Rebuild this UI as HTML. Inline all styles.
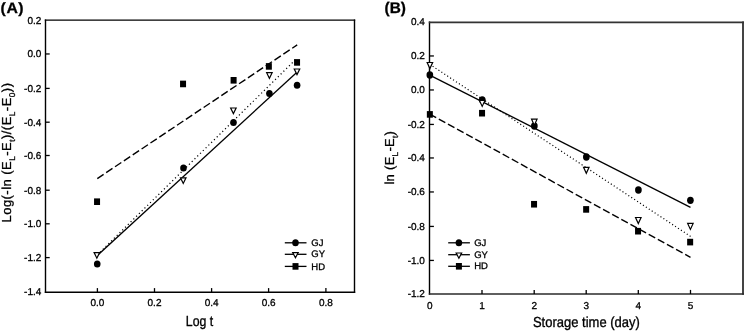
<!DOCTYPE html>
<html><head><meta charset="utf-8"><style>
html,body{margin:0;padding:0;background:#fff;}
body{width:745px;height:332px;overflow:hidden;}
svg{display:block;font-family:"Liberation Sans", sans-serif;filter:grayscale(1);text-rendering:geometricPrecision;}
</style></head><body>
<svg width="745" height="332" viewBox="0 0 745 332" font-family='"Liberation Sans", sans-serif'>
<rect width="745" height="332" fill="#fff"/>
<line x1="45.5" y1="19.4" x2="45.5" y2="292.9" stroke="#000" stroke-width="1.4"/>
<line x1="354.5" y1="19.4" x2="354.5" y2="292.9" stroke="#000" stroke-width="1.4"/>
<line x1="44.8" y1="20.1" x2="355.2" y2="20.1" stroke="#000" stroke-width="1.4"/>
<line x1="44.8" y1="292.2" x2="355.2" y2="292.2" stroke="#000" stroke-width="1.4"/>
<text x="41.3" y="23.5" font-size="10" text-anchor="end" font-weight="normal" stroke="#000" stroke-width="0.3">0.2</text>
<line x1="45.5" y1="53.96" x2="49.7" y2="53.96" stroke="#000" stroke-width="1.3"/>
<text x="41.3" y="57.36" font-size="10" text-anchor="end" font-weight="normal" stroke="#000" stroke-width="0.3">0.0</text>
<line x1="45.5" y1="88.4" x2="49.7" y2="88.4" stroke="#000" stroke-width="1.3"/>
<text x="41.3" y="91.8" font-size="10" text-anchor="end" font-weight="normal" stroke="#000" stroke-width="0.3">-0.2</text>
<line x1="45.5" y1="122.2" x2="49.7" y2="122.2" stroke="#000" stroke-width="1.3"/>
<text x="41.3" y="125.6" font-size="10" text-anchor="end" font-weight="normal" stroke="#000" stroke-width="0.3">-0.4</text>
<line x1="45.5" y1="155.5" x2="49.7" y2="155.5" stroke="#000" stroke-width="1.3"/>
<text x="41.3" y="158.9" font-size="10" text-anchor="end" font-weight="normal" stroke="#000" stroke-width="0.3">-0.6</text>
<line x1="45.5" y1="190.2" x2="49.7" y2="190.2" stroke="#000" stroke-width="1.3"/>
<text x="41.3" y="193.6" font-size="10" text-anchor="end" font-weight="normal" stroke="#000" stroke-width="0.3">-0.8</text>
<line x1="45.5" y1="223.8" x2="49.7" y2="223.8" stroke="#000" stroke-width="1.3"/>
<text x="41.3" y="227.2" font-size="10" text-anchor="end" font-weight="normal" stroke="#000" stroke-width="0.3">-1.0</text>
<line x1="45.5" y1="257.6" x2="49.7" y2="257.6" stroke="#000" stroke-width="1.3"/>
<text x="41.3" y="261" font-size="10" text-anchor="end" font-weight="normal" stroke="#000" stroke-width="0.3">-1.2</text>
<text x="41.3" y="294.6" font-size="10" text-anchor="end" font-weight="normal" stroke="#000" stroke-width="0.3">-1.4</text>
<line x1="97.4" y1="292.2" x2="97.4" y2="288.1" stroke="#000" stroke-width="1.3"/>
<text x="97.4" y="306.3" font-size="10" text-anchor="middle" font-weight="normal" stroke="#000" stroke-width="0.3">0.0</text>
<line x1="154.5" y1="292.2" x2="154.5" y2="288.1" stroke="#000" stroke-width="1.3"/>
<text x="154.5" y="306.3" font-size="10" text-anchor="middle" font-weight="normal" stroke="#000" stroke-width="0.3">0.2</text>
<line x1="211.6" y1="292.2" x2="211.6" y2="288.1" stroke="#000" stroke-width="1.3"/>
<text x="211.6" y="306.3" font-size="10" text-anchor="middle" font-weight="normal" stroke="#000" stroke-width="0.3">0.4</text>
<line x1="268.6" y1="292.2" x2="268.6" y2="288.1" stroke="#000" stroke-width="1.3"/>
<text x="268.6" y="306.3" font-size="10" text-anchor="middle" font-weight="normal" stroke="#000" stroke-width="0.3">0.6</text>
<line x1="325.9" y1="292.2" x2="325.9" y2="288.1" stroke="#000" stroke-width="1.3"/>
<text x="325.9" y="306.3" font-size="10" text-anchor="middle" font-weight="normal" stroke="#000" stroke-width="0.3">0.8</text>
<line x1="97.3" y1="255.6" x2="297.2" y2="71.9" stroke="#000" stroke-width="1.3"/>
<line x1="97.3" y1="254.9" x2="297.2" y2="58" stroke="#000" stroke-width="1.25" stroke-dasharray="1.15 2.75"/>
<line x1="97.3" y1="178.6" x2="297.2" y2="44.9" stroke="#000" stroke-width="1.4" stroke-dasharray="7.6 3.06"/>
<ellipse cx="97.25" cy="264.1" rx="3.3" ry="3.5" fill="#000"/>
<ellipse cx="183.5" cy="168" rx="3.3" ry="3.5" fill="#000"/>
<ellipse cx="233.5" cy="122.5" rx="3.3" ry="3.5" fill="#000"/>
<ellipse cx="269.4" cy="93.5" rx="3.3" ry="3.5" fill="#000"/>
<ellipse cx="297.1" cy="85.3" rx="3.3" ry="3.5" fill="#000"/>
<path d="M94.1 252.6H99.6L96.85 258.2Z" fill="#fff" stroke="#000" stroke-width="1.2"/>
<path d="M180.5 177.8H186L183.25 183.4Z" fill="#fff" stroke="#000" stroke-width="1.2"/>
<path d="M230.65 108H236.15L233.4 113.6Z" fill="#fff" stroke="#000" stroke-width="1.2"/>
<path d="M266.65 72.7H272.15L269.4 78.3Z" fill="#fff" stroke="#000" stroke-width="1.2"/>
<path d="M294.25 69H299.75L297 74.6Z" fill="#fff" stroke="#000" stroke-width="1.2"/>
<rect x="94.05" y="198.4" width="6" height="6.6" fill="#000"/>
<rect x="180.05" y="80.65" width="6" height="6.6" fill="#000"/>
<rect x="230.6" y="77" width="6" height="6.6" fill="#000"/>
<rect x="265.85" y="63.1" width="6" height="6.6" fill="#000"/>
<rect x="294.05" y="59.1" width="6" height="6.6" fill="#000"/>
<line x1="284.8" y1="242.8" x2="306.5" y2="242.8" stroke="#000" stroke-width="1.3"/>
<ellipse cx="295.5" cy="242.8" rx="3.3" ry="3.5" fill="#000"/>
<text x="311.3" y="245.8" font-size="9.5" text-anchor="start" font-weight="normal" stroke="#000" stroke-width="0.3">GJ</text>
<line x1="284.8" y1="254.3" x2="306.5" y2="254.3" stroke="#000" stroke-width="1.3"/>
<path d="M292.7 252.6H298.2L295.45 257.8Z" fill="#fff" stroke="#000" stroke-width="1.2"/>
<text x="311.3" y="257.3" font-size="9.5" text-anchor="start" font-weight="normal" stroke="#000" stroke-width="0.3">GY</text>
<line x1="284.8" y1="266.4" x2="306.5" y2="266.4" stroke="#000" stroke-width="1.3"/>
<rect x="292.5" y="263.1" width="6" height="6.6" fill="#000"/>
<text x="311.3" y="269.7" font-size="9.5" text-anchor="start" font-weight="normal" stroke="#000" stroke-width="0.3">HD</text>
<text transform="translate(0.6,12.8) scale(1.05,1)" font-size="15" font-weight="bold" letter-spacing="0.55" stroke="#000" stroke-width="0.3">(A)</text>
<text transform="translate(199.5,326.4) scale(1,1.12)" stroke="#000" stroke-width="0.3" font-size="13" text-anchor="middle" textLength="27.4" lengthAdjust="spacingAndGlyphs">Log t</text>
<text transform="translate(11.3,152.75) rotate(-90)" font-size="13" stroke="#000" stroke-width="0.3" text-anchor="middle" textLength="139.5" lengthAdjust="spacing">Log(-ln (E<tspan font-size="8.3" dy="4.1">L</tspan><tspan dy="-4.1">-E</tspan><tspan font-size="8.3" dy="4.1">t</tspan><tspan dy="-4.1">)/(E</tspan><tspan font-size="8.3" dy="4.1">L</tspan><tspan dy="-4.1">-E</tspan><tspan font-size="8.3" dy="4.1">0</tspan><tspan dy="-4.1">))</tspan></text>
<line x1="429.5" y1="21.45" x2="429.5" y2="294.85" stroke="#000" stroke-width="1.4"/>
<line x1="743" y1="21.45" x2="743" y2="294.85" stroke="#444" stroke-width="2.0"/>
<line x1="428.8" y1="22.3" x2="744" y2="22.3" stroke="#333" stroke-width="1.7"/>
<line x1="428.8" y1="294" x2="744" y2="294" stroke="#2a2a2a" stroke-width="1.7"/>
<text x="424.9" y="25" font-size="10" text-anchor="end" font-weight="normal" stroke="#000" stroke-width="0.3">0.4</text>
<line x1="429.5" y1="55.96" x2="433.9" y2="55.96" stroke="#000" stroke-width="1.3"/>
<text x="424.9" y="59.36" font-size="10" text-anchor="end" font-weight="normal" stroke="#000" stroke-width="0.3">0.2</text>
<line x1="429.5" y1="89.96" x2="433.9" y2="89.96" stroke="#000" stroke-width="1.3"/>
<text x="424.9" y="93.36" font-size="10" text-anchor="end" font-weight="normal" stroke="#000" stroke-width="0.3">0.0</text>
<line x1="429.5" y1="124.43" x2="433.9" y2="124.43" stroke="#000" stroke-width="1.3"/>
<text x="424.9" y="127.83" font-size="10" text-anchor="end" font-weight="normal" stroke="#000" stroke-width="0.3">-0.2</text>
<line x1="429.5" y1="157.96" x2="433.9" y2="157.96" stroke="#000" stroke-width="1.3"/>
<text x="424.9" y="161.36" font-size="10" text-anchor="end" font-weight="normal" stroke="#000" stroke-width="0.3">-0.4</text>
<line x1="429.5" y1="191.96" x2="433.9" y2="191.96" stroke="#000" stroke-width="1.3"/>
<text x="424.9" y="195.36" font-size="10" text-anchor="end" font-weight="normal" stroke="#000" stroke-width="0.3">-0.6</text>
<line x1="429.5" y1="226.43" x2="433.9" y2="226.43" stroke="#000" stroke-width="1.3"/>
<text x="424.9" y="229.83" font-size="10" text-anchor="end" font-weight="normal" stroke="#000" stroke-width="0.3">-0.8</text>
<line x1="429.5" y1="260.43" x2="433.9" y2="260.43" stroke="#000" stroke-width="1.3"/>
<text x="424.9" y="263.83" font-size="10" text-anchor="end" font-weight="normal" stroke="#000" stroke-width="0.3">-1.0</text>
<text x="424.9" y="297" font-size="10" text-anchor="end" font-weight="normal" stroke="#000" stroke-width="0.3">-1.2</text>
<text x="429.7" y="308.5" font-size="10" text-anchor="middle" font-weight="normal" stroke="#000" stroke-width="0.3">0</text>
<line x1="482" y1="294" x2="482" y2="289.9" stroke="#000" stroke-width="1.3"/>
<text x="482" y="308.5" font-size="10" text-anchor="middle" font-weight="normal" stroke="#000" stroke-width="0.3">1</text>
<line x1="534.2" y1="294" x2="534.2" y2="289.9" stroke="#000" stroke-width="1.3"/>
<text x="534.2" y="308.5" font-size="10" text-anchor="middle" font-weight="normal" stroke="#000" stroke-width="0.3">2</text>
<line x1="586.2" y1="294" x2="586.2" y2="289.9" stroke="#000" stroke-width="1.3"/>
<text x="586.2" y="308.5" font-size="10" text-anchor="middle" font-weight="normal" stroke="#000" stroke-width="0.3">3</text>
<line x1="638.3" y1="294" x2="638.3" y2="289.9" stroke="#000" stroke-width="1.3"/>
<text x="638.3" y="308.5" font-size="10" text-anchor="middle" font-weight="normal" stroke="#000" stroke-width="0.3">4</text>
<line x1="690.5" y1="294" x2="690.5" y2="289.9" stroke="#000" stroke-width="1.3"/>
<text x="690.5" y="308.5" font-size="10" text-anchor="middle" font-weight="normal" stroke="#000" stroke-width="0.3">5</text>
<line x1="429.7" y1="75.1" x2="690.5" y2="207.3" stroke="#000" stroke-width="1.3"/>
<line x1="429.7" y1="64.3" x2="690.5" y2="236.4" stroke="#000" stroke-width="1.2" stroke-dasharray="1.1 2.4"/>
<line x1="429.7" y1="114.1" x2="690.5" y2="257.3" stroke="#000" stroke-width="1.4" stroke-dasharray="7.4 3.01"/>
<ellipse cx="429.85" cy="74.95" rx="3.35" ry="3.7" fill="#000"/>
<ellipse cx="482.25" cy="99.9" rx="3.35" ry="3.7" fill="#000"/>
<ellipse cx="534.35" cy="126" rx="3.35" ry="3.7" fill="#000"/>
<ellipse cx="586.35" cy="157.05" rx="3.35" ry="3.7" fill="#000"/>
<ellipse cx="638.4" cy="189.95" rx="3.35" ry="3.7" fill="#000"/>
<ellipse cx="690.4" cy="200.35" rx="3.35" ry="3.7" fill="#000"/>
<path d="M427.15 62.5H432.65L429.9 68.5Z" fill="#fff" stroke="#000" stroke-width="1.2"/>
<path d="M479.45 100.4H484.95L482.2 106.4Z" fill="#fff" stroke="#000" stroke-width="1.2"/>
<path d="M531.55 119.2H537.05L534.3 125.2Z" fill="#fff" stroke="#000" stroke-width="1.2"/>
<path d="M583.55 167.3H589.05L586.3 173.3Z" fill="#fff" stroke="#000" stroke-width="1.2"/>
<path d="M635.55 217.5H641.05L638.3 223.5Z" fill="#fff" stroke="#000" stroke-width="1.2"/>
<path d="M687.65 223.4H693.15L690.4 229.4Z" fill="#fff" stroke="#000" stroke-width="1.2"/>
<rect x="426.85" y="111.1" width="6" height="6.6" fill="#000"/>
<rect x="479.05" y="109.9" width="6" height="6.6" fill="#000"/>
<rect x="531.05" y="200.95" width="6" height="6.6" fill="#000"/>
<rect x="583.15" y="206.1" width="6" height="6.6" fill="#000"/>
<rect x="635.05" y="227.9" width="6" height="6.6" fill="#000"/>
<rect x="687.15" y="238.8" width="6" height="6.6" fill="#000"/>
<line x1="448.2" y1="242.8" x2="469.9" y2="242.8" stroke="#000" stroke-width="1.3"/>
<ellipse cx="458.9" cy="242.8" rx="3.3" ry="3.5" fill="#000"/>
<text x="474.2" y="245.8" font-size="9.5" text-anchor="start" font-weight="normal" stroke="#000" stroke-width="0.3">GJ</text>
<line x1="448.2" y1="254.7" x2="469.9" y2="254.7" stroke="#000" stroke-width="1.3"/>
<path d="M456.15 253H461.65L458.9 258.2Z" fill="#fff" stroke="#000" stroke-width="1.2"/>
<text x="474.2" y="257.7" font-size="9.5" text-anchor="start" font-weight="normal" stroke="#000" stroke-width="0.3">GY</text>
<line x1="448.2" y1="266.3" x2="469.9" y2="266.3" stroke="#000" stroke-width="1.3"/>
<rect x="455.9" y="263" width="6" height="6.6" fill="#000"/>
<text x="474.2" y="269.3" font-size="9.5" text-anchor="start" font-weight="normal" stroke="#000" stroke-width="0.3">HD</text>
<text x="384.5" y="13.3" font-size="15.4" text-anchor="start" font-weight="bold" stroke="#000" stroke-width="0.3">(B)</text>
<text transform="translate(586.4,326.7) scale(1,1.12)" stroke="#000" stroke-width="0.3" font-size="13" text-anchor="middle">Storage time (day)</text>
<text transform="translate(393.5,157.8) rotate(-90)" font-size="13" stroke="#000" stroke-width="0.3" text-anchor="middle" textLength="53.5" lengthAdjust="spacing">ln (E<tspan font-size="8.3" dy="4.1">L</tspan><tspan dy="-4.1">-E</tspan><tspan font-size="8.3" dy="4.1">t</tspan><tspan dy="-4.1">)</tspan></text>
</svg>
</body></html>
